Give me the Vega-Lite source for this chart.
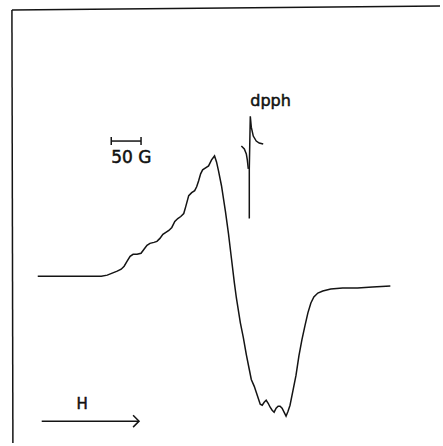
{
  "$schema": "https://vega.github.io/schema/vega-lite/v6.json",
  "width": 443,
  "height": 446,
  "autosize": {"type": "fit", "contains": "padding"},
  "padding": 0,
  "background": "white",
  "config": {"view": {"stroke": null}},
  "datasets": {
    "lines": [
      {"s": "frameL", "i": 0, "x": 12, "y": 10},
      {"s": "frameL", "i": 1, "x": 13, "y": 446},
      {"s": "frameT", "i": 0, "x": 12, "y": 10},
      {"s": "frameT", "i": 1, "x": 443, "y": 6},
      {"s": "spec", "i": 0, "x": 38, "y": 278},
      {"s": "spec", "i": 1, "x": 60, "y": 278},
      {"s": "spec", "i": 2, "x": 80, "y": 278},
      {"s": "spec", "i": 3, "x": 95, "y": 278},
      {"s": "spec", "i": 4, "x": 102, "y": 278},
      {"s": "spec", "i": 5, "x": 108, "y": 277},
      {"s": "spec", "i": 6, "x": 113, "y": 275},
      {"s": "spec", "i": 7, "x": 118, "y": 273},
      {"s": "spec", "i": 8, "x": 122, "y": 271},
      {"s": "spec", "i": 9, "x": 125, "y": 268},
      {"s": "spec", "i": 10, "x": 128, "y": 263},
      {"s": "spec", "i": 11, "x": 131, "y": 258},
      {"s": "spec", "i": 12, "x": 134, "y": 256},
      {"s": "spec", "i": 13, "x": 138, "y": 256},
      {"s": "spec", "i": 14, "x": 142, "y": 255},
      {"s": "spec", "i": 15, "x": 145, "y": 251},
      {"s": "spec", "i": 16, "x": 148, "y": 247},
      {"s": "spec", "i": 17, "x": 151, "y": 245},
      {"s": "spec", "i": 18, "x": 155, "y": 244},
      {"s": "spec", "i": 19, "x": 158, "y": 243},
      {"s": "spec", "i": 20, "x": 161, "y": 240},
      {"s": "spec", "i": 21, "x": 164, "y": 236},
      {"s": "spec", "i": 22, "x": 167, "y": 234},
      {"s": "spec", "i": 23, "x": 170, "y": 232},
      {"s": "spec", "i": 24, "x": 173, "y": 229},
      {"s": "spec", "i": 25, "x": 176, "y": 223},
      {"s": "spec", "i": 26, "x": 179, "y": 220},
      {"s": "spec", "i": 27, "x": 182, "y": 218},
      {"s": "spec", "i": 28, "x": 185, "y": 215},
      {"s": "spec", "i": 29, "x": 187, "y": 208},
      {"s": "spec", "i": 30, "x": 190, "y": 197},
      {"s": "spec", "i": 31, "x": 193, "y": 194},
      {"s": "spec", "i": 32, "x": 196, "y": 192},
      {"s": "spec", "i": 33, "x": 198, "y": 188},
      {"s": "spec", "i": 34, "x": 200, "y": 182},
      {"s": "spec", "i": 35, "x": 202, "y": 175},
      {"s": "spec", "i": 36, "x": 204, "y": 171},
      {"s": "spec", "i": 37, "x": 207, "y": 169},
      {"s": "spec", "i": 38, "x": 210, "y": 167},
      {"s": "spec", "i": 39, "x": 213, "y": 161},
      {"s": "spec", "i": 40, "x": 216, "y": 157},
      {"s": "spec", "i": 41, "x": 218, "y": 163},
      {"s": "spec", "i": 42, "x": 220, "y": 172},
      {"s": "spec", "i": 43, "x": 223, "y": 187},
      {"s": "spec", "i": 44, "x": 227, "y": 213},
      {"s": "spec", "i": 45, "x": 230, "y": 235},
      {"s": "spec", "i": 46, "x": 233, "y": 260},
      {"s": "spec", "i": 47, "x": 236, "y": 285},
      {"s": "spec", "i": 48, "x": 238, "y": 300},
      {"s": "spec", "i": 49, "x": 242, "y": 325},
      {"s": "spec", "i": 50, "x": 245, "y": 340},
      {"s": "spec", "i": 51, "x": 248, "y": 357},
      {"s": "spec", "i": 52, "x": 251, "y": 372},
      {"s": "spec", "i": 53, "x": 253, "y": 382},
      {"s": "spec", "i": 54, "x": 256, "y": 389},
      {"s": "spec", "i": 55, "x": 258, "y": 395},
      {"s": "spec", "i": 56, "x": 260, "y": 401},
      {"s": "spec", "i": 57, "x": 262, "y": 407},
      {"s": "spec", "i": 58, "x": 264, "y": 408},
      {"s": "spec", "i": 59, "x": 266, "y": 405},
      {"s": "spec", "i": 60, "x": 268, "y": 403},
      {"s": "spec", "i": 61, "x": 270, "y": 406},
      {"s": "spec", "i": 62, "x": 272, "y": 410},
      {"s": "spec", "i": 63, "x": 274, "y": 413},
      {"s": "spec", "i": 64, "x": 276, "y": 415},
      {"s": "spec", "i": 65, "x": 278, "y": 411},
      {"s": "spec", "i": 66, "x": 280, "y": 409},
      {"s": "spec", "i": 67, "x": 282, "y": 409},
      {"s": "spec", "i": 68, "x": 284, "y": 411},
      {"s": "spec", "i": 69, "x": 286, "y": 415},
      {"s": "spec", "i": 70, "x": 288, "y": 419},
      {"s": "spec", "i": 71, "x": 290, "y": 414},
      {"s": "spec", "i": 72, "x": 292, "y": 408},
      {"s": "spec", "i": 73, "x": 295, "y": 393},
      {"s": "spec", "i": 74, "x": 298, "y": 378},
      {"s": "spec", "i": 75, "x": 301, "y": 358},
      {"s": "spec", "i": 76, "x": 304, "y": 342},
      {"s": "spec", "i": 77, "x": 307, "y": 328},
      {"s": "spec", "i": 78, "x": 310, "y": 315},
      {"s": "spec", "i": 79, "x": 313, "y": 305},
      {"s": "spec", "i": 80, "x": 316, "y": 299},
      {"s": "spec", "i": 81, "x": 320, "y": 295},
      {"s": "spec", "i": 82, "x": 325, "y": 293},
      {"s": "spec", "i": 83, "x": 333, "y": 291},
      {"s": "spec", "i": 84, "x": 345, "y": 290},
      {"s": "spec", "i": 85, "x": 360, "y": 290},
      {"s": "spec", "i": 86, "x": 375, "y": 289},
      {"s": "spec", "i": 87, "x": 393, "y": 288},
      {"s": "dpphA", "i": 0, "x": 243, "y": 147},
      {"s": "dpphA", "i": 1, "x": 246, "y": 150},
      {"s": "dpphA", "i": 2, "x": 248, "y": 155},
      {"s": "dpphA", "i": 3, "x": 249, "y": 161},
      {"s": "dpphA", "i": 4, "x": 250, "y": 170},
      {"s": "dpphB", "i": 0, "x": 251, "y": 220},
      {"s": "dpphB", "i": 1, "x": 251, "y": 170},
      {"s": "dpphB", "i": 2, "x": 252, "y": 117},
      {"s": "dpphB", "i": 3, "x": 253, "y": 128},
      {"s": "dpphB", "i": 4, "x": 255, "y": 137},
      {"s": "dpphB", "i": 5, "x": 258, "y": 142},
      {"s": "dpphB", "i": 6, "x": 261, "y": 144},
      {"s": "dpphB", "i": 7, "x": 265, "y": 145},
      {"s": "bar", "i": 0, "x": 112, "y": 142},
      {"s": "bar", "i": 1, "x": 142, "y": 142},
      {"s": "barL", "i": 0, "x": 112, "y": 138},
      {"s": "barL", "i": 1, "x": 112, "y": 146},
      {"s": "barR", "i": 0, "x": 142, "y": 138},
      {"s": "barR", "i": 1, "x": 142, "y": 146},
      {"s": "arrow", "i": 0, "x": 42, "y": 424},
      {"s": "arrow", "i": 1, "x": 140, "y": 424},
      {"s": "head", "i": 0, "x": 134, "y": 418},
      {"s": "head", "i": 1, "x": 140, "y": 424},
      {"s": "head", "i": 2, "x": 134, "y": 430}
    ],
    "labels": [
      {"t": "dpph", "x": 252, "y": 107, "size": 16},
      {"t": "50 G", "x": 112, "y": 164, "size": 17},
      {"t": "H", "x": 77, "y": 412, "size": 15}
    ]
  },
  "layer": [
    {
      "data": {"name": "lines"},
      "mark": {"type": "line", "color": "#141414", "strokeWidth": 1.5, "interpolate": "linear"},
      "encoding": {
        "x": {"field": "x", "type": "quantitative", "scale": {"domain": [0, 443]}, "axis": null},
        "y": {"field": "y", "type": "quantitative", "scale": {"domain": [0, 446], "reverse": true}, "axis": null},
        "detail": {"field": "s"},
        "order": {"field": "i", "type": "quantitative"}
      }
    },
    {
      "data": {"name": "labels"},
      "mark": {"type": "text", "align": "left", "baseline": "alphabetic", "font": "DejaVu Sans", "color": "#111111", "stroke": "#111111", "strokeWidth": 0.5},
      "encoding": {
        "x": {"field": "x", "type": "quantitative", "scale": {"domain": [0, 443]}, "axis": null},
        "y": {"field": "y", "type": "quantitative", "scale": {"domain": [0, 446], "reverse": true}, "axis": null},
        "text": {"field": "t"},
        "size": {"field": "size", "type": "quantitative", "scale": null}
      }
    }
  ]
}
